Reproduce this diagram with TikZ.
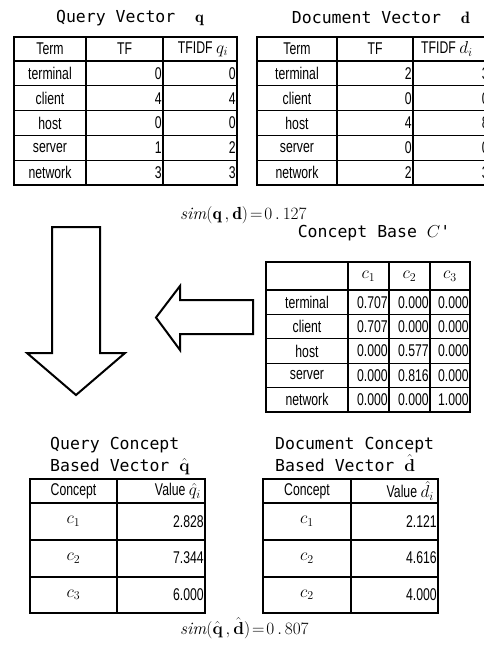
\documentclass[tikz,border=0pt]{standalone}
\usepackage{fontspec}
\usepackage{bm}
\newfontfamily\cellfont[FakeStretch=0.72]{Liberation Sans}
\newfontfamily\titlefont{DejaVu Sans Mono}
\tikzset{
  cell/.style={font=\cellfont\fontsize{17}{18}\selectfont, inner sep=0pt},
  num/.style={cell, anchor=east},
  ttl/.style={font=\titlefont\fontsize{16.5}{22}\selectfont, inner sep=0pt},
  simtext/.style={font=\fontsize{17.5}{20}\selectfont, inner sep=0pt, anchor=west},
  gridline/.style={line width=1.2pt},
  frame/.style={line width=1.8pt},
  heavy/.style={line width=2.4pt},
  blockarrow/.style={line width=2pt, line join=miter, fill=white},
}
\begin{document}
\begin{tikzpicture}[x=1pt, y=-1pt]
\useasboundingbox (0,0) rectangle (484,657);
\clip (0,0) rectangle (484,657);
\fill[white] (0,0) rectangle (484,657);

% ---------- query vector ----------
\node[ttl] (qtitle) at (130,18) {Query Vector\ \ $\mathbf{q}$};
\foreach \x in {86,163} \draw[gridline] (\x,37) -- (\x,185);
\foreach \y in {61,85.8,110.6,135.4,160.2} \draw[gridline] (14,\y) -- (237,\y);
\draw[frame] (14,37) rectangle (237,185);
\node[cell] (qh1) at (50,49) {Term};
\node[cell] (qh2) at (124.5,49) {TF};
\node[cell] (qh3) at (203,49) {TFIDF $q_i$};
\foreach \t/\tf/\tw [count=\i] in {terminal/0/0, client/4/4, host/0/0, server/1/2, network/3/3} {
  \pgfmathsetmacro\yc{61+24.8*(\i-0.5)}
  \node[cell] (qt\i) at (50,\yc) {\t};
  \node[num] (qf\i) at (162,\yc) {\tf};
  \node[num] (qw\i) at (236,\yc) {\tw};
}

% ---------- document vector ----------
\node[ttl] (dtitle) at (381,18) {Document Vector\ \ $\mathbf{d}$};
\foreach \x in {337,413} \draw[gridline] (\x,37) -- (\x,185);
\foreach \y in {61,85.8,110.6,135.4,160.2} \draw[gridline] (257,\y) -- (492,\y);
\draw[frame] (257,37) rectangle (490,185);
\node[cell] (dh1) at (297,49) {Term};
\node[cell] (dh2) at (375,49) {TF};
\node[cell, anchor=west] (dh3) at (421,49) {TFIDF $d_i$};
\foreach \t/\tf/\tw [count=\i] in {terminal/2/3, client/0/0, host/4/8, server/0/0, network/2/3} {
  \pgfmathsetmacro\yc{61+24.8*(\i-0.5)}
  \node[cell] (dt\i) at (297,\yc) {\t};
  \node[num] (df\i) at (412,\yc) {\tf};
  \node[num] (dw\i) at (489,\yc) {\tw};
}

% ---------- similarity of the term vectors ----------
\node[simtext] (sim1) at (180,215) {$\mathit{sim}(\mathbf{q}\,,\mathbf{d})\!=\!0\,.\,127$};

% ---------- concept base ----------
\node[ttl] (cbtitle) at (374,233) {Concept Base $C$'};
\foreach \x in {348,389,430} \draw[gridline] (\x,262) -- (\x,412);
\foreach \y in {290,314.4,338.8,363.2,387.6} \draw[gridline] (266,\y) -- (470,\y);
\draw[frame] (266,262) rectangle (470,412);
\node[cell] (ch1) at (368.5,276) {$c_1$};
\node[cell] (ch2) at (409.5,276) {$c_2$};
\node[cell] (ch3) at (450,276) {$c_3$};
\foreach \t/\a/\b/\c [count=\i] in {terminal/0.707/0.000/0.000, client/0.707/0.000/0.000, host/0.000/0.577/0.000, server/0.000/0.816/0.000, network/0.000/0.000/1.000} {
  \pgfmathsetmacro\yc{290+24.4*(\i-0.5)}
  \node[cell] (ct\i) at (307,\yc) {\t};
  \node[num] (ca\i) at (388,\yc) {\a};
  \node[num] (cb\i) at (429,\yc) {\b};
  \node[num] (cc\i) at (469,\yc) {\c};
}

% ---------- block arrows ----------
\draw[blockarrow] (52,227) -- (100,227) -- (100,353) -- (125,353) -- (76,395)
  -- (27,353) -- (52,353) -- cycle;
\draw[blockarrow] (253,300) -- (180,300) -- (180,286) -- (156,317.5) -- (180,350)
  -- (180,334) -- (253,334) -- cycle;

% ---------- query concept based vector ----------
\node[ttl, anchor=base west] (qct1) at (50,449) {Query Concept};
\node[ttl, anchor=base west] (qct2) at (50,471) {Based Vector $\bm{\hat{\mathbf{q}}}$};
\draw[heavy] (117,479) -- (117,613);
\foreach \y in {503,540,577} \draw[heavy] (30,\y) -- (205,\y);
\draw[heavy] (30,479) rectangle (205,613);
\node[cell] (qch1) at (73.5,491) {Concept};
\node[cell, anchor=east] (qch2) at (201,491) {Value $\hat{q}_i$};
\foreach \c/\v [count=\i] in {1/2.828, 2/7.344, 3/6.000} {
  \pgfmathsetmacro\yc{503+36.7*(\i-0.5)}
  \node[cell] (qcc\i) at (73.5,\yc) {$c_{\c}$};
  \node[num] (qcv\i) at (204,\yc) {\v};
}

% ---------- document concept based vector ----------
\node[ttl, anchor=base west] (dct1) at (275,449) {Document Concept};
\node[ttl, anchor=base west] (dct2) at (275,471) {Based Vector $\bm{\hat{\mathbf{d}}}$};
\draw[heavy] (351,479) -- (351,613);
\foreach \y in {503,540,577} \draw[heavy] (263,\y) -- (438,\y);
\draw[heavy] (263,479) rectangle (438,613);
\node[cell] (dch1) at (307,491) {Concept};
\node[cell, anchor=east] (dch2) at (434,491) {Value $\hat{d}_i$};
\foreach \c/\v [count=\i] in {1/2.121, 2/4.616, 2/4.000} {
  \pgfmathsetmacro\yc{503+36.7*(\i-0.5)}
  \node[cell] (dcc\i) at (307,\yc) {$c_{\c}$};
  \node[num] (dcv\i) at (437,\yc) {\v};
}

% ---------- similarity of the concept vectors ----------
\node[simtext] (sim2) at (180,628) {$\mathit{sim}(\bm{\hat{\mathbf{q}}}\,,\bm{\hat{\mathbf{d}}})\!=\!0\,.\,807$};
\end{tikzpicture}
\end{document}
